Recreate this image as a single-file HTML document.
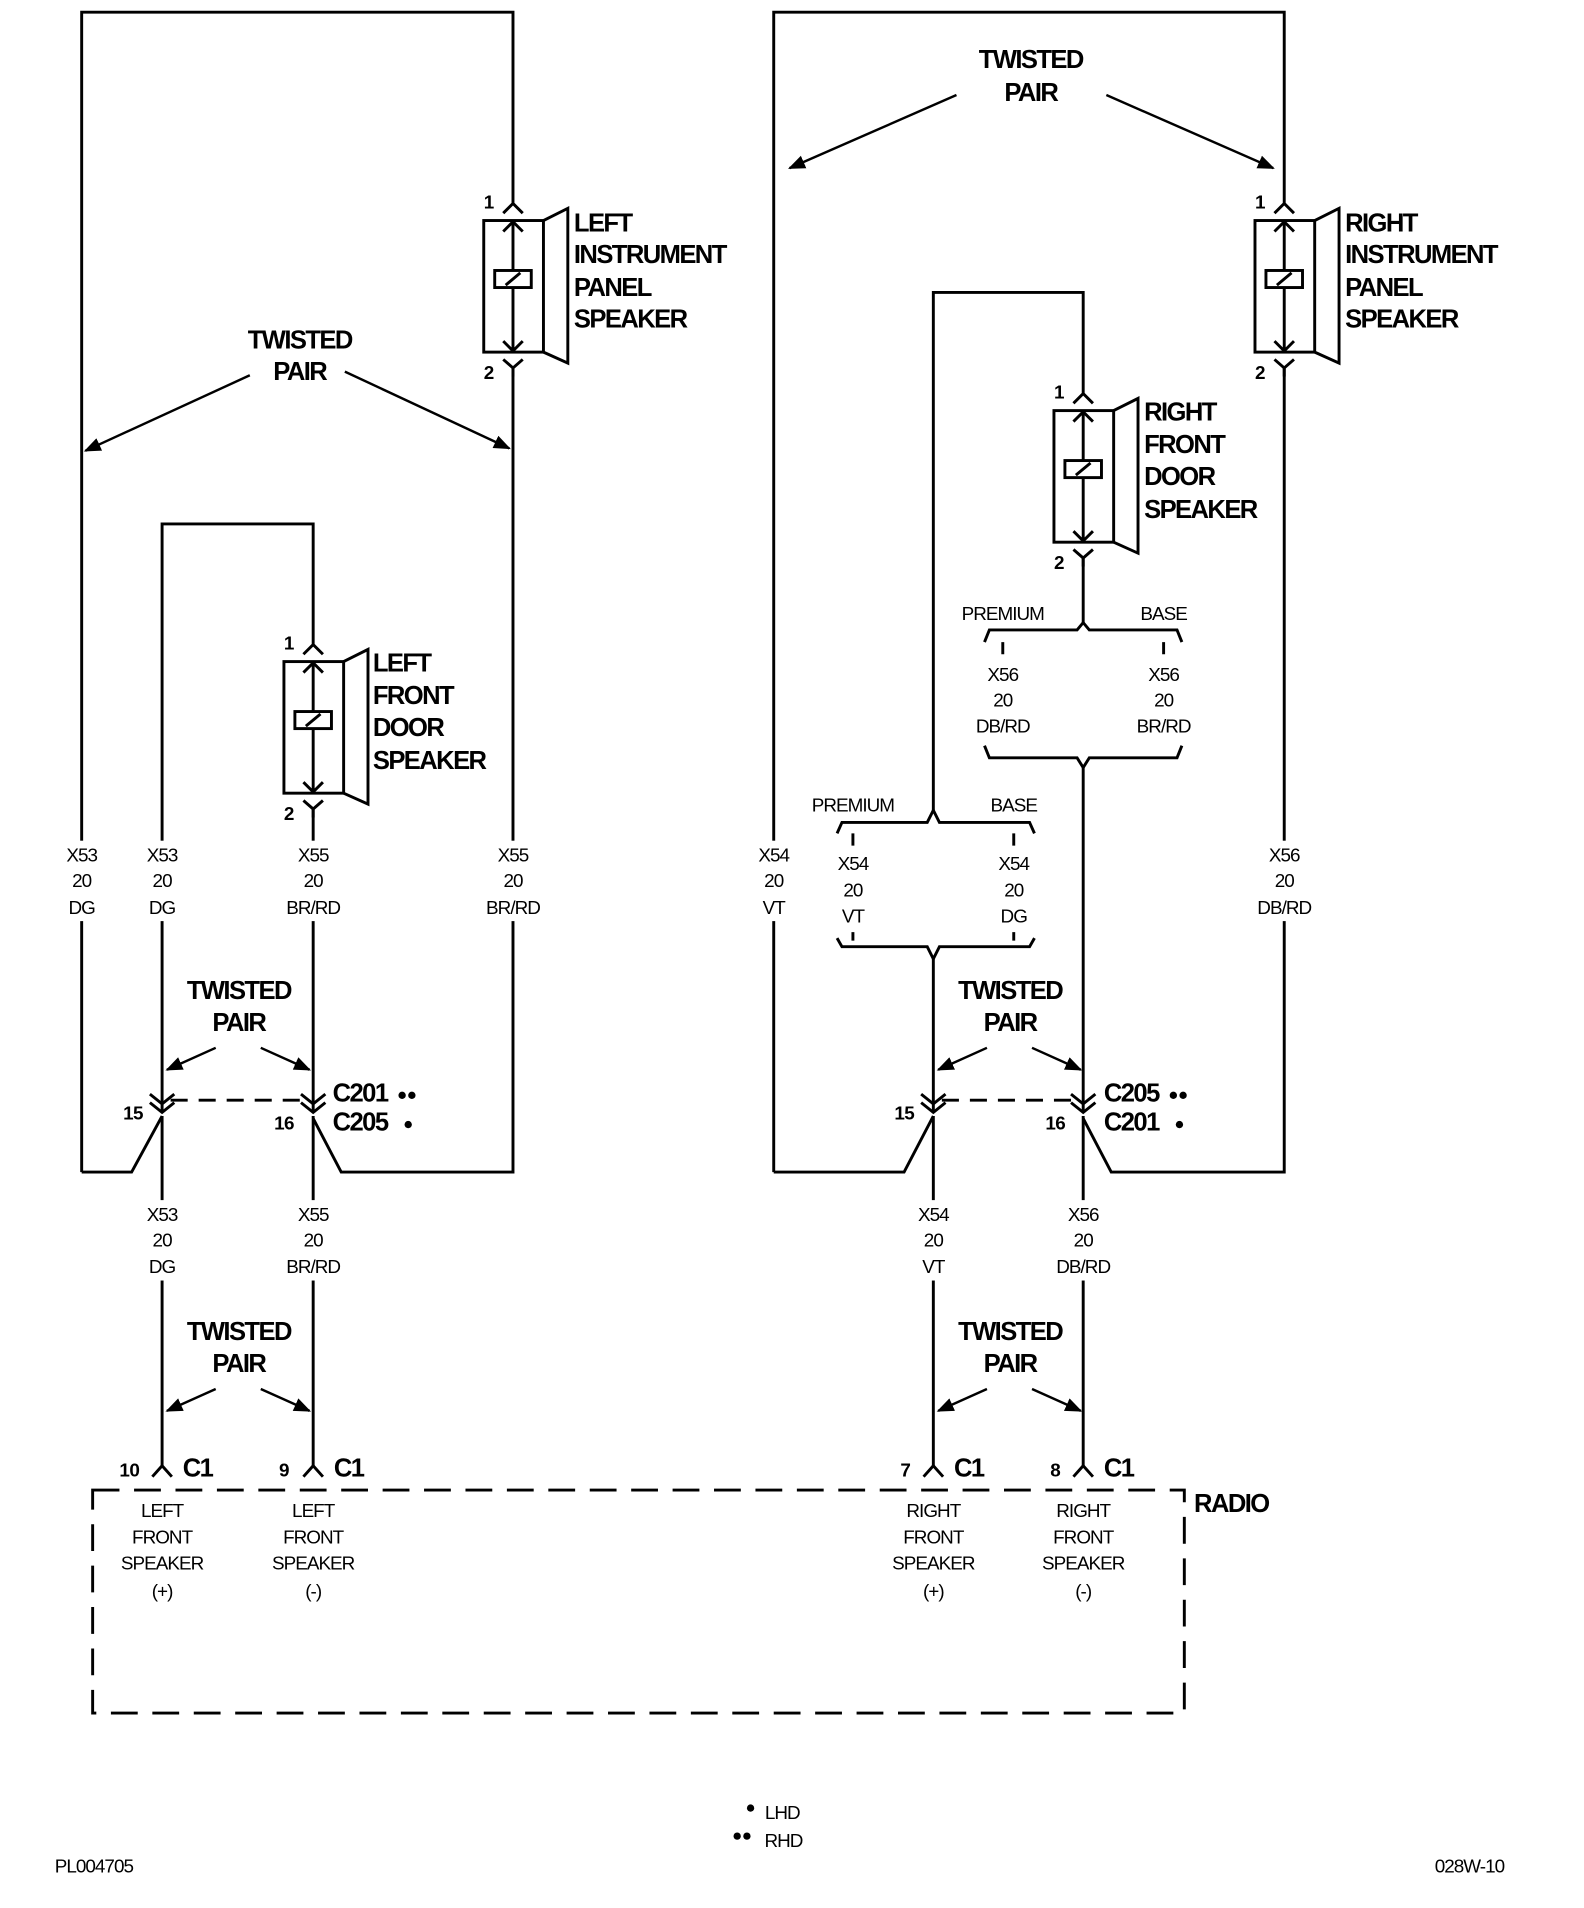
<!DOCTYPE html>
<html><head><meta charset="utf-8"><style>
html,body{margin:0;padding:0;background:#fff}
svg{display:block}
text{font-family:"Liberation Sans",sans-serif;fill:#000}
.b{font-weight:bold;font-size:21px;letter-spacing:-1.3px}
.s{font-size:15.5px;text-anchor:middle;letter-spacing:-0.8px}
.p{font-size:15.5px;font-weight:bold;letter-spacing:-0.5px}
.m{text-anchor:middle}
</style></head><body>
<svg width="1584" height="1908" viewBox="0 0 1300 1566" xmlns="http://www.w3.org/2000/svg">
<defs>
<g id="spk" fill="none" stroke="#000" stroke-width="2.4">
 <path d="M-8,-6 L0,-14 L8,-6 M0,-14 L0,-30"/>
 <rect x="-24" y="0" width="49" height="108"/>
 <path d="M25,0 L45,-10 L45,117 L25,108"/>
 <path d="M0,0 L0,108 M-8,9 L0,1 L8,9 M-8,99 L0,107 L8,99"/>
 <rect x="-15" y="41" width="30" height="14" fill="#fff"/>
 <path d="M-6,53 L6,43"/>
 <path d="M-8,114 L0,121 L8,114 M0,121 L0,128"/>
</g>
<g id="cv" fill="none" stroke="#000" stroke-width="2.4">
 <path d="M-10,898 L0,906 L10,898 M-10,905 L0,913 L10,905"/>
</g>
<g id="pin" fill="none" stroke="#000" stroke-width="2.4">
 <path d="M-8,1212 L0,1203 L8,1212"/>
</g>
<rect id="gapA" x="-27" y="690" width="54" height="66" fill="#fff"/>
<rect id="gapB" x="-27" y="985" width="54" height="66" fill="#fff"/>
<marker id="ah2" viewBox="0 0 10 10" refX="9" refY="5" markerWidth="14" markerHeight="14" orient="auto" markerUnits="userSpaceOnUse"><path d="M0,1 L10,5 L0,9 z"/></marker>
</defs>

<g fill="none" stroke="#000" stroke-width="2.4">
<path d="M67,962 L67,10 L421,10 L421,151"/>
<path d="M421,302 L421,962 L280,962 L257,918"/>
<path d="M67,962 L108,962 L133,916"/>
<path d="M133,913 L133,430 L257,430 L257,513"/>
<path d="M257,664 L257,913"/>
<path d="M133,916 L133,1203 M257,916 L257,1203"/>
<path d="M140,903 L250,903" stroke-dasharray="14,9"/>
<path d="M635,962 L635,10 L1054,10 L1054,151"/>
<path d="M1054,302 L1054,962 L912,962 L889,918"/>
<path d="M635,962 L742,962 L766,916"/>
<path d="M766,665 L766,240 L889,240 L889,307"/>
<path d="M889,458 L889,511"/>
<path d="M889,630 L889,913"/>
<path d="M766,787 L766,913"/>
<path d="M766,916 L766,1203 M889,916 L889,1203"/>
<path d="M773,903 L882,903" stroke-dasharray="14,9"/>
<path d="M808,527 L812,517 L884,517 L889,511 L894,517 L966,517 L970,527"/>
<path d="M808,612 L812,622 L884,622 L889,630 L894,622 L966,622 L970,612"/>
<path d="M823,527 L823,537 M955,527 L955,537"/>
<path d="M687,684 L691,675 L761,675 L766,665 L771,675 L845,675 L849,684"/>
<path d="M687,770 L691,777 L761,777 L766,787 L771,777 L845,777 L849,770"/>
<path d="M700,684 L700,694 M832,684 L832,694 M700,765 L700,772 M832,765 L832,772"/>
<rect x="76" y="1223" width="896" height="183" stroke-dasharray="22,12"/>
</g>

<use href="#gapA" x="67"/><use href="#gapA" x="133"/><use href="#gapA" x="257"/><use href="#gapA" x="421"/>
<use href="#gapA" x="635"/><use href="#gapA" x="1054"/>
<use href="#gapB" x="133"/><use href="#gapB" x="257"/><use href="#gapB" x="766"/><use href="#gapB" x="889"/>

<use href="#spk" x="421" y="181"/>
<use href="#spk" x="257" y="543"/>
<use href="#spk" x="1054" y="181"/>
<use href="#spk" x="889" y="337"/>
<use href="#cv" x="133"/><use href="#cv" x="257"/><use href="#cv" x="766"/><use href="#cv" x="889"/>
<use href="#pin" x="133"/><use href="#pin" x="257"/><use href="#pin" x="766"/><use href="#pin" x="889"/>

<g stroke="#000" stroke-width="2" fill="#000">
<line x1="205" y1="308" x2="70" y2="370" marker-end="url(#ah2)"/>
<line x1="283" y1="305" x2="418" y2="368" marker-end="url(#ah2)"/>
<line x1="785" y1="78" x2="648" y2="138" marker-end="url(#ah2)"/>
<line x1="908" y1="78" x2="1045" y2="138" marker-end="url(#ah2)"/>
<line x1="177" y1="860" x2="137" y2="878" marker-end="url(#ah2)"/>
<line x1="214" y1="860" x2="254" y2="878" marker-end="url(#ah2)"/>
<line x1="177" y1="1140" x2="137" y2="1158" marker-end="url(#ah2)"/>
<line x1="214" y1="1140" x2="254" y2="1158" marker-end="url(#ah2)"/>
<line x1="810" y1="860" x2="770" y2="878" marker-end="url(#ah2)"/>
<line x1="847" y1="860" x2="887" y2="878" marker-end="url(#ah2)"/>
<line x1="810" y1="1140" x2="770" y2="1158" marker-end="url(#ah2)"/>
<line x1="847" y1="1140" x2="887" y2="1158" marker-end="url(#ah2)"/>
</g>

<g class="b">
<text x="471" y="190">LEFT</text><text x="471" y="216">INSTRUMENT</text><text x="471" y="243">PANEL</text><text x="471" y="269">SPEAKER</text>
<text x="306" y="551">LEFT</text><text x="306" y="578">FRONT</text><text x="306" y="604">DOOR</text><text x="306" y="631">SPEAKER</text>
<text x="1104" y="190">RIGHT</text><text x="1104" y="216">INSTRUMENT</text><text x="1104" y="243">PANEL</text><text x="1104" y="269">SPEAKER</text>
<text x="939" y="345">RIGHT</text><text x="939" y="372">FRONT</text><text x="939" y="398">DOOR</text><text x="939" y="425">SPEAKER</text>
<text class="m" x="246" y="286">TWISTED</text><text class="m" x="246" y="312">PAIR</text>
<text class="m" x="846" y="56">TWISTED</text><text class="m" x="846" y="83">PAIR</text>
<text class="m" x="196" y="820">TWISTED</text><text class="m" x="196" y="846">PAIR</text>
<text class="m" x="196" y="1100">TWISTED</text><text class="m" x="196" y="1126">PAIR</text>
<text class="m" x="829" y="820">TWISTED</text><text class="m" x="829" y="846">PAIR</text>
<text class="m" x="829" y="1100">TWISTED</text><text class="m" x="829" y="1126">PAIR</text>
<text x="273" y="904">C201</text><text x="273" y="928">C205</text>
<text x="906" y="904">C205</text><text x="906" y="928">C201</text>
<text x="150" y="1212">C1</text><text x="274" y="1212">C1</text><text x="783" y="1212">C1</text><text x="906" y="1212">C1</text>
<text x="980" y="1241">RADIO</text>
</g>
<g fill="#000">
<circle cx="330" cy="899" r="3"/><circle cx="338" cy="899" r="3"/><circle cx="335" cy="923" r="3"/>
<circle cx="963" cy="899" r="3"/><circle cx="971" cy="899" r="3"/><circle cx="968" cy="923" r="3"/>
<circle cx="616" cy="1484" r="3"/><circle cx="605" cy="1507" r="3"/><circle cx="613" cy="1507" r="3"/>
</g>

<g class="p">
<text x="397" y="171">1</text><text x="397" y="311">2</text>
<text x="233" y="533">1</text><text x="233" y="673">2</text>
<text x="1030" y="171">1</text><text x="1030" y="311">2</text>
<text x="865" y="327">1</text><text x="865" y="467">2</text>
<text x="101" y="919">15</text><text x="225" y="927">16</text>
<text x="734" y="919">15</text><text x="858" y="927">16</text>
<text x="98" y="1212">10</text><text x="229" y="1212">9</text>
<text x="739" y="1212">7</text><text x="862" y="1212">8</text>
</g>

<g class="s">
<text x="67" y="707">X53</text><text x="67" y="728">20</text><text x="67" y="750">DG</text>
<text x="133" y="707">X53</text><text x="133" y="728">20</text><text x="133" y="750">DG</text>
<text x="257" y="707">X55</text><text x="257" y="728">20</text><text x="257" y="750">BR/RD</text>
<text x="421" y="707">X55</text><text x="421" y="728">20</text><text x="421" y="750">BR/RD</text>
<text x="133" y="1002">X53</text><text x="133" y="1023">20</text><text x="133" y="1045">DG</text>
<text x="257" y="1002">X55</text><text x="257" y="1023">20</text><text x="257" y="1045">BR/RD</text>
<text x="635" y="707">X54</text><text x="635" y="728">20</text><text x="635" y="750">VT</text>
<text x="1054" y="707">X56</text><text x="1054" y="728">20</text><text x="1054" y="750">DB/RD</text>
<text x="766" y="1002">X54</text><text x="766" y="1023">20</text><text x="766" y="1045">VT</text>
<text x="889" y="1002">X56</text><text x="889" y="1023">20</text><text x="889" y="1045">DB/RD</text>
<text x="823" y="509">PREMIUM</text><text x="955" y="509">BASE</text>
<text x="823" y="559">X56</text><text x="823" y="580">20</text><text x="823" y="601">DB/RD</text>
<text x="955" y="559">X56</text><text x="955" y="580">20</text><text x="955" y="601">BR/RD</text>
<text x="700" y="666">PREMIUM</text><text x="832" y="666">BASE</text>
<text x="700" y="714">X54</text><text x="700" y="736">20</text><text x="700" y="757">VT</text>
<text x="832" y="714">X54</text><text x="832" y="736">20</text><text x="832" y="757">DG</text>
<text x="133" y="1245">LEFT</text><text x="133" y="1267">FRONT</text><text x="133" y="1288">SPEAKER</text><text x="133" y="1311">(+)</text>
<text x="257" y="1245">LEFT</text><text x="257" y="1267">FRONT</text><text x="257" y="1288">SPEAKER</text><text x="257" y="1311">(-)</text>
<text x="766" y="1245">RIGHT</text><text x="766" y="1267">FRONT</text><text x="766" y="1288">SPEAKER</text><text x="766" y="1311">(+)</text>
<text x="889" y="1245">RIGHT</text><text x="889" y="1267">FRONT</text><text x="889" y="1288">SPEAKER</text><text x="889" y="1311">(-)</text>
<text x="642" y="1493">LHD</text><text x="643" y="1516">RHD</text>
<text x="77" y="1537">PL004705</text><text x="1206" y="1537">028W-10</text>
</g>
</svg>
</body></html>
